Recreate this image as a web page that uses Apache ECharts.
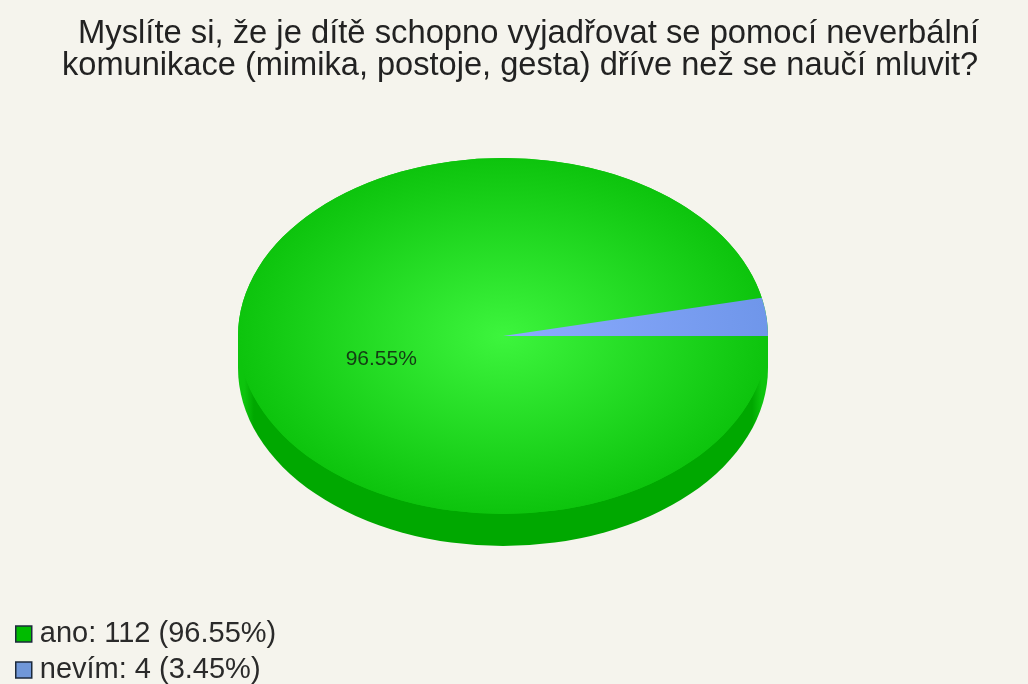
<!DOCTYPE html>
<html><head><meta charset="utf-8">
<style>html,body{margin:0;padding:0;background:#f5f4ed}#c{width:1028px;height:684px}</style>
<script src="https://cdn.jsdelivr.net/npm/echarts@6/dist/echarts.min.js"></script>
</head><body><div id="c"></div>
<script>
const titleLines = ['Myslíte si, že je dítě schopno vyjadřovat se pomocí neverbální', 'komunikace (mimika, postoje, gesta) dříve než se naučí mluvit?'];
const categories = ['ano', 'nevím'];
const counts = [112, 4];
const percents = ['96.55%', '3.45%'];
const total = counts[0] + counts[1];

const CX = 503, CY = 336, RX = 265, RY = 178, DEPTH = 32;
const gradients = [['#3df53d', '#0dc40d'], ['#8cacff', '#6f96ea']];
const legendFill = ['#00bb00', '#7097d8'];

function radial(inner, outer) {
  return {type: 'radial', x: 0, y: 0, r: RX, global: true,
    colorStops: [{offset: 0, color: inner}, {offset: 1, color: outer}]};
}
const sideFill = {type: 'linear', x: -RX, y: 0, x2: RX, y2: 0, global: true, colorStops: [
  {offset: 0, color: '#0dc40d'}, {offset: 0.012, color: '#0dc40d'}, {offset: 0.03, color: '#00a800'},
  {offset: 0.97, color: '#00a800'}, {offset: 0.988, color: '#0dc40d'}, {offset: 1, color: '#0dc40d'}]};

function renderSlice(idx) {
  return function (params, api) {
    let before = 0;
    for (let i = 0; i < idx; i++) before += counts[i];
    const a0 = before / total * Math.PI * 2;
    const a1 = (before + api.value(0)) / total * Math.PI * 2;
    const ky = RY / RX;
    const children = [];
    if (idx === 0) {
      children.push({type: 'group', x: CX, y: CY + DEPTH, scaleY: ky, children: [
        {type: 'circle', shape: {cx: 0, cy: 0, r: RX}, style: {fill: sideFill}},
        {type: 'rect', shape: {x: -RX, y: -DEPTH / ky, width: RX * 2, height: DEPTH / ky}, style: {fill: sideFill}}]});
      children.push({type: 'group', x: CX, y: CY, scaleY: ky, children: [
        {type: 'circle', shape: {cx: 0, cy: 0, r: RX}, style: {fill: radial(gradients[0][0], gradients[0][1])}}]});
    }
    children.push({type: 'group', x: CX, y: CY, scaleY: ky, children: [
      {type: 'sector', shape: {cx: 0, cy: 0, r0: 0, r: RX, startAngle: a0, endAngle: a1, clockwise: true},
       style: {fill: radial(gradients[idx][0], gradients[idx][1])}}]});
    if (idx === 0) {
      const mid = (a0 + a1) / 2;
      children.push({type: 'text', x: CX + Math.cos(mid) * RX * 0.462, y: CY + Math.sin(mid) * RY * 0.462 + 14,
        style: {text: percents[idx], fill: '#143c14', font: '21px "Liberation Sans"', align: 'center', verticalAlign: 'middle'}});
    }
    return {type: 'group', children};
  };
}

const titleStyle = {fontFamily: 'Liberation Sans', fontWeight: 'normal', color: '#222', lineHeight: 30};
const chart = echarts.init(document.getElementById('c'), null, {renderer: 'canvas'});
chart.setOption({
  animation: false,
  backgroundColor: '#f5f4ed',
  title: [
    {text: titleLines[0], left: 78, top: 19, padding: 0, textStyle: {...titleStyle, fontSize: 32.75}},
    {text: titleLines[1], left: 62, top: 51, padding: 0, textStyle: {...titleStyle, fontSize: 32.6}}
  ],
  legend: {
    orient: 'vertical', left: 15, top: 619, height: 100, padding: 0, itemWidth: 16, itemHeight: 16, itemGap: 6, icon: 'rect', selectedMode: false,
    data: categories.map((c, i) => ({name: c, itemStyle: {color: legendFill[i], borderColor: '#1c2a3c', borderWidth: 1.5}})),
    textStyle: {fontFamily: 'Liberation Sans', fontSize: 29, color: '#2a2a2a', padding: [4, 0, 0, 3], lineHeight: 26},
    formatter: n => { const i = categories.indexOf(n); return n + ': ' + counts[i] + ' (' + percents[i] + ')'; }
  },
  series: categories.map((c, i) => ({
    type: 'custom', name: c, coordinateSystem: 'none', silent: true,
    itemStyle: {color: legendFill[i]},
    renderItem: renderSlice(i), data: [[counts[i]]]
  }))
});
</script></body></html>
